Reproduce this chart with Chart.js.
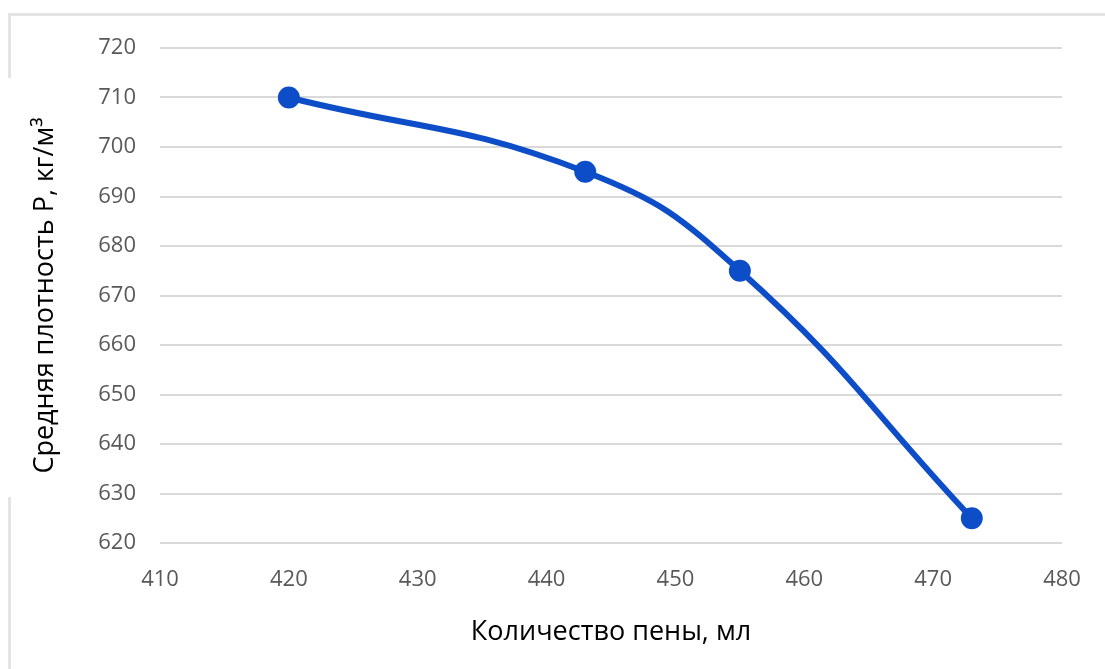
<!DOCTYPE html>
<html>
<head>
<meta charset="utf-8">
<script src="https://cdn.jsdelivr.net/npm/chart.js@4.4.1/dist/chart.umd.min.js"></script>
<style>
  html, body { margin: 0; padding: 0; background: #fff; }
  #wrap { position: relative; width: 1105px; height: 669px; }
  #chart { position: absolute; left: 0; top: 0; }
  /* cropped chart frame from the original document */
  .frame { position: absolute; background: #e3e3e3; }
</style>
</head>
<body>
<div id="wrap">
  <div class="frame" style="left:8px; top:13px; width:1097px; height:3px;"></div>
  <div class="frame" style="left:8px; top:13px; width:3px; height:65px;"></div>
  <div class="frame" style="left:8px; top:497px; width:3px; height:172px;"></div>
  <canvas id="chart" width="1105" height="669"></canvas>
</div>
<script>
// --- data ---
const foamMl = [420, 443, 455, 473];
const densityKgM3 = [710, 695, 675, 625];
const xTicks = [410, 420, 430, 440, 450, 460, 470, 480];
const yTicks = [620, 630, 640, 650, 660, 670, 680, 690, 700, 710, 720];

const points = foamMl.map((x, i) => ({ x: x, y: densityKgM3[i] }));

const tickFont = { family: 'Open Sans', size: 22 };
const titleFont = { family: 'Open Sans', size: 27 };

new Chart(document.getElementById('chart').getContext('2d'), {
  type: 'scatter',
  data: {
    datasets: [{
      data: points,
      showLine: true,
      tension: 0.45,
      borderColor: '#0d4ec8',
      backgroundColor: '#0d4ec8',
      borderWidth: 6,
      pointRadius: 8,
      pointHoverRadius: 8
    }]
  },
  options: {
    responsive: false,
    animation: false,
    layout: { padding: { top: 48, right: 43, left: 0, bottom: 0 } },
    plugins: { legend: { display: false }, tooltip: { enabled: false } },
    scales: {
      x: {
        type: 'linear',
        min: xTicks[0],
        max: xTicks[xTicks.length - 1],
        afterBuildTicks: s => { s.ticks = xTicks.map(v => ({ value: v })); },
        afterFit: s => { s.height = 126; },
        grid: { display: false, drawTicks: false },
        border: { display: false },
        ticks: { color: '#595959', font: tickFont, padding: 24, maxRotation: 0 },
        title: {
          display: true,
          text: 'Количество пены, мл',
          color: '#000',
          font: titleFont,
          padding: { top: 0, bottom: 20 }
        }
      },
      y: {
        type: 'linear',
        min: yTicks[0],
        max: yTicks[yTicks.length - 1],
        afterBuildTicks: s => { s.ticks = yTicks.map(v => ({ value: v })); },
        afterFit: s => { s.width = 160; },
        grid: { color: '#d9d9d9', lineWidth: 2, drawTicks: false },
        border: { display: false },
        ticks: { color: '#595959', font: tickFont, padding: 24 },
        title: {
          display: true,
          text: 'Средняя плотность Р, кг/м³',
          color: '#000',
          font: titleFont,
          padding: { top: 29, bottom: 0 }
        }
      }
    }
  }
});
</script>
</body>
</html>
